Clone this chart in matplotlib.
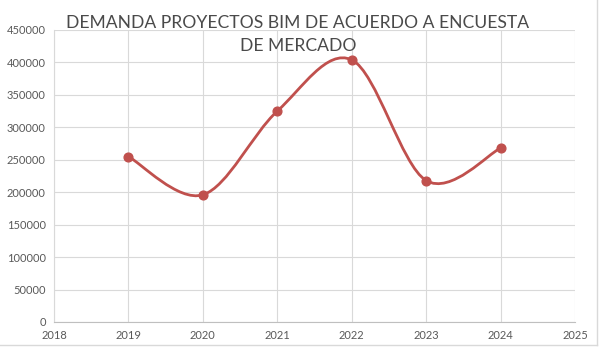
import numpy as np
import matplotlib
matplotlib.use("Agg")
import matplotlib.pyplot as plt
from matplotlib.path import Path
from matplotlib.patches import PathPatch

years = [2019, 2020, 2021, 2022, 2023, 2024]
demand = [255000, 196000, 325000, 404000, 218000, 268000]
title = "DEMANDA PROYECTOS BIM DE ACUERDO A ENCUESTA\nDE MERCADO"

plt.rcParams['font.family'] = ['Lato', 'DejaVu Sans']
color = '#c0504d'
gray = '#595959'

fig = plt.figure(figsize=(6.04, 3.5), dpi=100)
ax = fig.add_axes([54/604, 1-322/350, (575-54)/604, (322-30)/350])

# Excel-like smoothed curve (cubic Bezier, Catmull-Rom style control points)
x = np.array(years, float)
y = np.array(demand, float)
n = len(x)
verts = [(x[0], y[0])]
codes = [Path.MOVETO]
for i in range(n - 1):
    p0 = np.array([x[max(i-1, 0)], y[max(i-1, 0)]])
    p1 = np.array([x[i], y[i]])
    p2 = np.array([x[i+1], y[i+1]])
    p3 = np.array([x[min(i+2, n-1)], y[min(i+2, n-1)]])
    c1 = p1 + (p2 - p0) / 6
    c2 = p2 - (p3 - p1) / 6
    verts += [tuple(c1), tuple(c2), tuple(p2)]
    codes += [Path.CURVE4] * 3
ax.add_patch(PathPatch(Path(verts, codes), fill=False, edgecolor=color, lw=2, zorder=3))
ax.plot(years, demand, 'o', color=color, ms=6.3, zorder=4)

ax.set_xlim(2018, 2025)
ax.set_ylim(0, 450000)
ax.set_xticks(range(2018, 2026))
ax.set_yticks(range(0, 450001, 50000))
ax.grid(True, color='#d9d9d9', lw=0.8)
ax.set_axisbelow(True)
for s in ['top', 'right']:
    ax.spines[s].set_visible(False)
ax.spines['left'].set_color('#d9d9d9')
ax.spines['bottom'].set_color('#bfbfbf')
ax.tick_params(length=0, colors=gray, labelsize=8, pad=6)

fig.text(298/604, 1-34.5/350, title, ha='center', va='center', fontsize=12.6,
         color='#4a4a4a', linespacing=1.6)

# outer chart border (right and bottom visible)
fig.add_artist(plt.Line2D([597/604, 597/604], [1-345/350, 1], color='#d9d9d9', lw=1))
fig.add_artist(plt.Line2D([0, 597/604], [1-345/350, 1-345/350], color='#d9d9d9', lw=1))

fig.savefig('out.png', dpi=100)
